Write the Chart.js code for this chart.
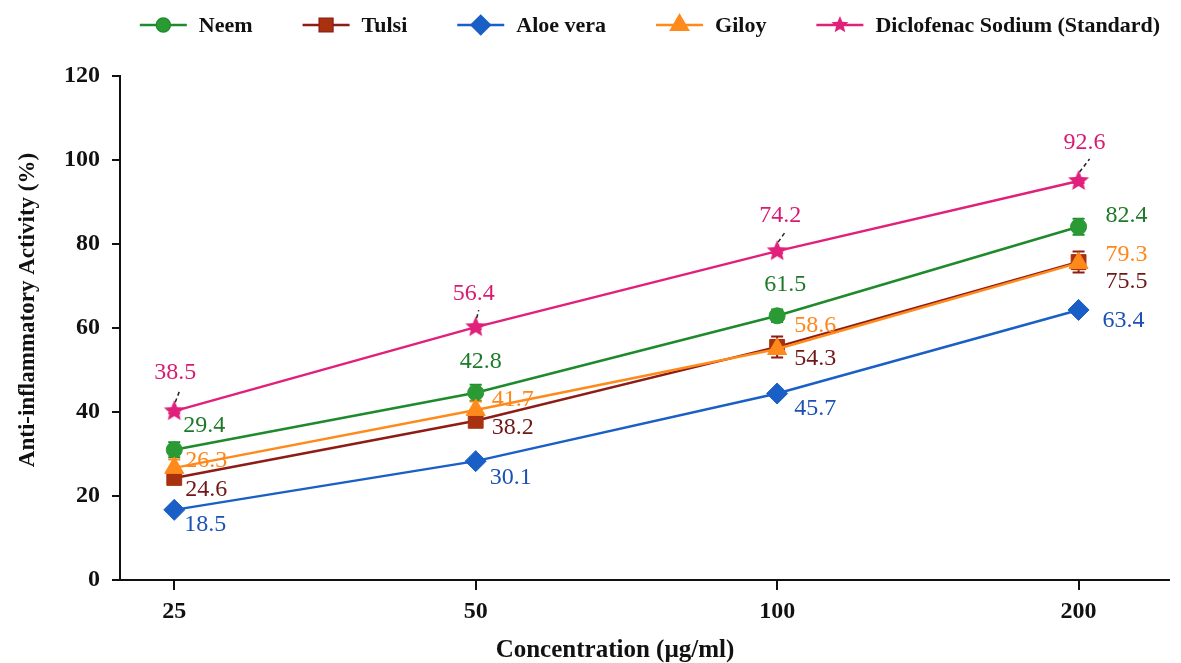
<!DOCTYPE html>
<html>
<head>
<meta charset="utf-8">
<script src="https://cdn.jsdelivr.net/npm/chart.js@4.4.1/dist/chart.umd.min.js"></script>
<style>
  html, body { margin: 0; padding: 0; background: #fff; }
  #wrap { width: 1181px; height: 663px; }
</style>
</head>
<body>
<div id="wrap"><canvas id="chart" width="1181" height="663"></canvas></div>
<script>
// ---- data ----
const concentrations = ['25', '50', '100', '200'];
const seriesNames = ['Neem', 'Tulsi', 'Aloe vera', 'Giloy', 'Diclofenac Sodium (Standard)'];

// plotted means (marker positions)
const neem = [31.0, 44.6, 62.9, 84.1];
const tulsi = [24.3, 37.9, 55.5, 75.7];
const aloe = [16.7, 28.3, 44.4, 64.3];
const giloy = [26.7, 40.5, 55.0, 75.5];
const diclofenac = [40.2, 60.2, 78.3, 95.0];

// error bar half-lengths
const neemErr = [1.8, 1.9, 1.5, 1.9];
const tulsiErr = [1.4, 1.0, 2.5, 2.5];
const aloeErr = [0.8, 0.6, 0.8, 0.6];
const giloyErr = [2.0, 2.0, 1.0, 1.5];
const diclofenacErr = [0.5, 0.5, 0.5, 0.5];

// value labels printed next to each point
const neemLabels = ['29.4', '42.8', '61.5', '82.4'];
const tulsiLabels = ['24.6', '38.2', '54.3', '75.5'];
const aloeLabels = ['18.5', '30.1', '45.7', '63.4'];
const giloyLabels = ['26.3', '41.7', '58.6', '79.3'];
const diclofenacLabels = ['38.5', '56.4', '74.2', '92.6'];

const yTicks = [0, 20, 40, 60, 80, 100, 120];

// ---- styling ----
const serif = '"Liberation Serif", "Times New Roman", serif';

function makeStar(r, color) {
  const c = document.createElement('canvas');
  c.width = c.height = r * 2 + 2;
  const g = c.getContext('2d');
  g.translate(r + 1, r + 1);
  g.beginPath();
  for (let i = 0; i < 10; i++) {
    const rad = i % 2 === 0 ? r : r * 0.45;
    const a = -Math.PI / 2 + i * Math.PI / 5;
    g.lineTo(Math.cos(a) * rad, Math.sin(a) * rad);
  }
  g.closePath();
  g.fillStyle = color;
  g.fill();
  return c;
}

const starImg = makeStar(11, '#e0207a');

// offsets of each value label from its point, in px
const labelOffsets = [
  [[30, -24], [5, -31], [8, -31], [48, -11]],
  [[32, 12], [37, 7], [38, 12], [48, 20]],
  [[31, 15], [35, 17], [38, 15], [45, 11]],
  [[32, -7], [37, -10], [38, -23], [48, -8]],
  [[1, -38], [-2, -33], [3, -35], [6, -38]]
];

const styles = [
  { line: '#1e8a2c', fill: '#2a9a34', text: '#1c7a28', point: 'circle', r: 8 },
  { line: '#8e1c16', fill: '#a8320f', text: '#6e1716', point: 'rect', r: 10.5 },
  { line: '#1a5fc6', fill: '#1a5fc6', text: '#1b50b4', point: 'rectRot', r: 10.5 },
  { line: '#ff8a1c', fill: '#ff8a1c', text: '#ff861a', point: 'triangle', r: 11 },
  { line: '#e0207a', fill: '#e0207a', text: '#d81b72', point: starImg, r: 10 }
];

const seriesValues = [neem, tulsi, aloe, giloy, diclofenac];
const seriesErrors = [neemErr, tulsiErr, aloeErr, giloyErr, diclofenacErr];
const seriesLabels = [neemLabels, tulsiLabels, aloeLabels, giloyLabels, diclofenacLabels];
const drawOrder = [1, 3, 4, 0, 0]; // giloy over tulsi, as in the figure

const datasets = seriesNames.map((name, i) => ({
  label: name,
  data: seriesValues[i].map((v, j) => ({ x: j, y: v })),
  borderColor: styles[i].line,
  backgroundColor: styles[i].fill,
  pointBackgroundColor: styles[i].fill,
  pointBorderColor: styles[i].fill,
  pointStyle: styles[i].point,
  pointRadius: styles[i].r,
  pointBorderWidth: 1,
  borderWidth: 2.5,
  tension: 0,
  order: drawOrder[i]
}));

// error bars under the markers
const errorBars = {
  id: 'errorBars',
  beforeDatasetsDraw(chart) {
    const ctx = chart.ctx, y = chart.scales.y;
    ctx.save();
    chart.data.datasets.forEach((ds, i) => {
      const meta = chart.getDatasetMeta(i);
      ctx.strokeStyle = styles[i].line;
      ctx.lineWidth = 2;
      meta.data.forEach((pt, j) => {
        const v = seriesValues[i][j], e = seriesErrors[i][j];
        const top = y.getPixelForValue(v + e), bot = y.getPixelForValue(v - e);
        ctx.beginPath();
        ctx.moveTo(pt.x, top); ctx.lineTo(pt.x, bot);
        ctx.moveTo(pt.x - 6, top); ctx.lineTo(pt.x + 6, top);
        ctx.moveTo(pt.x - 6, bot); ctx.lineTo(pt.x + 6, bot);
        ctx.stroke();
      });
    });
    ctx.restore();
  }
};

// value labels and leader lines
const valueLabels = {
  id: 'valueLabels',
  afterDatasetsDraw(chart) {
    const ctx = chart.ctx;
    ctx.save();
    ctx.font = '24px ' + serif;
    ctx.textAlign = 'center';
    ctx.textBaseline = 'middle';
    chart.data.datasets.forEach((ds, i) => {
      const meta = chart.getDatasetMeta(i);
      meta.data.forEach((pt, j) => {
        const [dx, dy] = labelOffsets[i][j];
        if (i === 4) {
          ctx.save();
          ctx.strokeStyle = '#222';
          ctx.lineWidth = 1.5;
          ctx.setLineDash([4, 3]);
          ctx.beginPath();
          ctx.moveTo(pt.x + 1, pt.y - 9);
          ctx.lineTo(pt.x + dx + 5, pt.y + dy + 16);
          ctx.stroke();
          ctx.restore();
        }
        ctx.fillStyle = styles[i].text;
        ctx.fillText(seriesLabels[i][j], pt.x + dx, pt.y + dy);
      });
    });
    ctx.restore();
  }
};

// legend and axis titles
const decorations = {
  id: 'decorations',
  afterDraw(chart) {
    const ctx = chart.ctx;
    ctx.save();
    ctx.font = 'bold 22px ' + serif;
    ctx.textBaseline = 'middle';
    const lineW = 47, gapText = 12, gapItem = 50;
    const widths = seriesNames.map(n => ctx.measureText(n).width);
    const total = widths.reduce((a, w) => a + lineW + gapText + w, 0) + gapItem * (seriesNames.length - 1);
    let x = 650 - total / 2;
    const yL = 25;
    seriesNames.forEach((name, i) => {
      const s = styles[i];
      ctx.strokeStyle = s.line;
      ctx.lineWidth = 2.5;
      ctx.beginPath();
      ctx.moveTo(x, yL); ctx.lineTo(x + lineW, yL);
      ctx.stroke();
      ctx.fillStyle = s.fill;
      if (s.point === starImg) {
        ctx.drawImage(makeStar(9, s.fill), x + lineW / 2 - 10, yL - 10);
      } else {
        Chart.helpers.drawPoint(ctx, { pointStyle: s.point, radius: s.r - 1.5, borderWidth: 1 }, x + lineW / 2, yL);
        ctx.fill();
      }
      ctx.fillStyle = '#111';
      ctx.textAlign = 'left';
      ctx.fillText(name, x + lineW + gapText, yL + 1);
      x += lineW + gapText + widths[i] + gapItem;
    });

    ctx.fillStyle = '#111';
    ctx.font = 'bold 25px ' + serif;
    ctx.textAlign = 'center';
    ctx.fillText('Concentration (µg/ml)', 615, 651);
    ctx.font = 'bold 23px ' + serif;
    ctx.translate(28, 310);
    ctx.rotate(-Math.PI / 2);
    ctx.fillText('Anti-inflammatory Activity (%)', 0, 0);
    ctx.restore();
  }
};

new Chart(document.getElementById('chart'), {
  type: 'line',
  data: { datasets },
  options: {
    responsive: false,
    animation: false,
    layout: { padding: { top: 76, left: 0, right: 11, bottom: 0 } },
    plugins: { legend: { display: false }, tooltip: { enabled: false } },
    scales: {
      x: {
        type: 'linear',
        min: -0.18,
        max: 3.3,
        afterBuildTicks: s => { s.ticks = concentrations.map((c, i) => ({ value: i })); },
        afterFit: s => { s.height = 83; },
        ticks: {
          callback: v => concentrations[v],
          font: { family: serif, size: 24, weight: 'bold' },
          color: '#111',
          padding: 7
        },
        grid: { drawOnChartArea: false, tickLength: 10, color: '#111', lineWidth: 2 },
        border: { color: '#111', width: 2 }
      },
      y: {
        min: 0,
        max: 120,
        afterBuildTicks: s => { s.ticks = yTicks.map(v => ({ value: v })); },
        afterFit: s => { s.width = 120; },
        ticks: {
          font: { family: serif, size: 24, weight: 'bold' },
          color: '#111',
          padding: 12
        },
        grid: { drawOnChartArea: false, tickLength: 8, color: '#111', lineWidth: 2 },
        border: { color: '#111', width: 2 }
      }
    }
  },
  plugins: [errorBars, valueLabels, decorations]
});
</script>
</body>
</html>
